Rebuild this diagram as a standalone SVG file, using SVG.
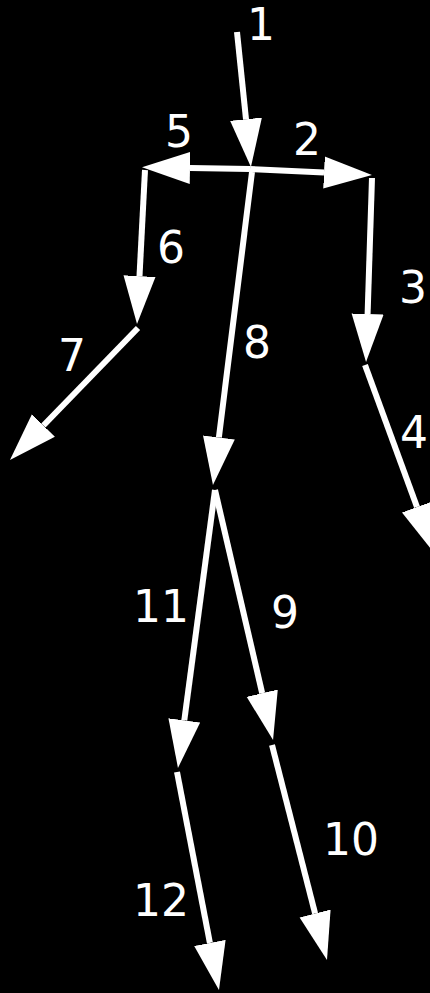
<svg xmlns="http://www.w3.org/2000/svg" width="430" height="993" viewBox="0 0 430 993">
<defs>
<marker id="ah" markerUnits="userSpaceOnUse" markerWidth="50" markerHeight="34" viewBox="0 -17 50 34" refX="0" refY="0" orient="auto">
<path d="M0,-16 L48,0 L0,16 Z" fill="#fff"/>
</marker>
<style>
.c{stroke:#fff;stroke-width:6;fill:none;marker-end:url(#ah)}
.l{fill:#fff;font-family:"DejaVu Sans",sans-serif;font-size:44px;text-anchor:middle}
</style>
</defs>
<rect width="430" height="993" fill="#000"/>
<g id="connectors">
<line class="c" x1="237" y1="32" x2="246" y2="119.2"/>
<line class="c" x1="250" y1="169" x2="190" y2="168"/>
<line class="c" x1="250" y1="169" x2="324" y2="172.6"/>
<line class="c" x1="145" y1="170" x2="139.5" y2="276.1"/>
<line class="c" x1="138" y1="328" x2="43.4" y2="425.5"/>
<line class="c" x1="372" y1="178" x2="367.6" y2="314"/>
<line class="c" x1="365" y1="365" x2="417" y2="507"/>
<line class="c" x1="252" y1="172" x2="218.9" y2="437.4"/>
<line class="c" x1="215" y1="490" x2="184.3" y2="720.4"/>
<line class="c" x1="215" y1="490" x2="262.2" y2="693.2"/>
<line class="c" x1="177" y1="772" x2="209.9" y2="942.9"/>
<line class="c" x1="272" y1="745" x2="315.1" y2="913.5"/>
</g>
<g id="labels">
<text id="l1" class="l" x="261" y="40">1</text>
<text id="l2" class="l" x="307" y="155">2</text>
<text id="l3" class="l" x="413" y="303">3</text>
<text id="l4" class="l" x="414" y="448">4</text>
<text id="l5" class="l" x="179" y="147">5</text>
<text id="l6" class="l" x="171" y="263">6</text>
<text id="l7" class="l" x="72" y="371">7</text>
<text id="l8" class="l" x="257" y="358">8</text>
<text id="l9" class="l" x="285" y="628">9</text>
<text id="l10" class="l" x="351" y="855">10</text>
<text id="l11" class="l" x="161" y="622">11</text>
<text id="l12" class="l" x="161" y="916">12</text>
</g>
</svg>
